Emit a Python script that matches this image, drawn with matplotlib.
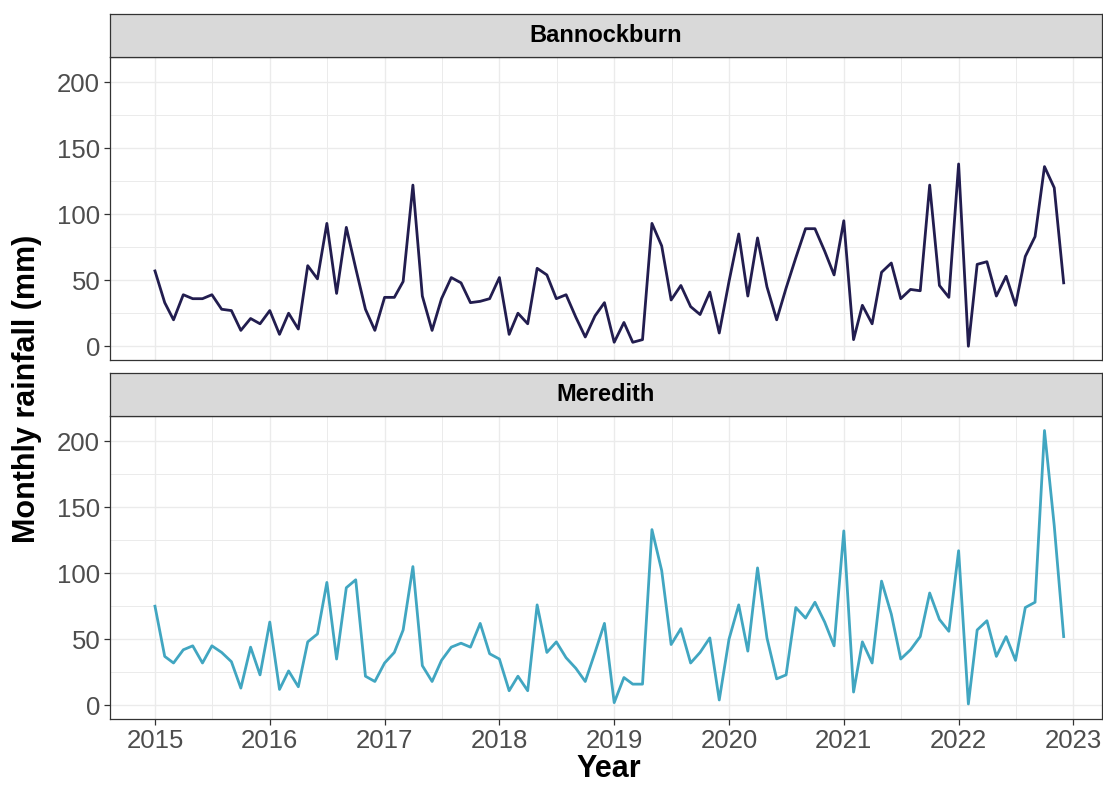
import numpy as np
import pandas as pd
import matplotlib
matplotlib.use("Agg")
import matplotlib.pyplot as plt
from matplotlib.ticker import MultipleLocator

plt.rcParams["font.family"] = ["Liberation Sans", "DejaVu Sans"]

# monthly rainfall (mm), Jan 2015 - Dec 2022
months = pd.date_range("2015-01-01", "2022-12-01", freq="MS")

sites = ["Bannockburn", "Meredith"]

bannockburn = [
    57, 33, 20, 39, 36, 36, 39, 28, 27, 12, 21, 17,
    27, 9, 25, 13, 61, 51, 93, 40, 90, 59, 28, 12,
    37, 37, 49, 122, 38, 12, 36, 52, 48, 33, 34, 36,
    52, 9, 25, 17, 59, 54, 36, 39, 22, 7, 23, 33,
    3, 18, 3, 5, 93, 76, 35, 46, 30, 24, 41, 10,
    49, 85, 38, 82, 45, 20, 44, 67, 89, 89, 72, 54,
    95, 5, 31, 17, 56, 63, 36, 43, 42, 122, 46, 37,
    138, 0, 62, 64, 38, 53, 31, 68, 83, 136, 120, 48,
]

meredith = [
    75, 37, 32, 42, 45, 32, 45, 40, 33, 13, 44, 23,
    63, 12, 26, 14, 48, 54, 93, 35, 89, 95, 22, 18,
    32, 40, 57, 105, 30, 18, 34, 44, 47, 44, 62, 39,
    35, 11, 22, 11, 76, 40, 48, 36, 28, 18, 40, 62,
    2, 21, 16, 16, 133, 102, 46, 58, 32, 40, 51, 4,
    50, 76, 41, 104, 51, 20, 23, 74, 66, 78, 63, 45,
    132, 10, 48, 32, 94, 69, 35, 42, 52, 85, 65, 56,
    117, 1, 57, 64, 37, 52, 34, 74, 78, 208, 136, 52,
]

colors = ["#221D4F", "#41A6C1"]
year_ticks = list(range(2015, 2024))
y_ticks = [0, 50, 100, 150, 200]

GRID = "#EBEBEB"
BORDER = "#333333"


def decimal_year(dates):
    start = pd.to_datetime(dates.year.astype(str) + "-01-01")
    length = np.where(dates.is_leap_year, 366.0, 365.0)
    return dates.year + (dates - start).days / length


def style_panel(ax, show_x):
    ax.set_xlim(2014.608, 2023.249)
    ax.set_ylim(-10.4, 219.0)
    ax.set_xticks(year_ticks)
    ax.set_yticks(y_ticks)
    ax.xaxis.set_minor_locator(MultipleLocator(0.5))
    ax.yaxis.set_minor_locator(MultipleLocator(25))
    ax.grid(True, which="major", color=GRID, linewidth=1.0)
    ax.grid(True, which="minor", color=GRID, linewidth=0.7)
    ax.set_axisbelow(True)
    for sp in ax.spines.values():
        sp.set_color(BORDER)
        sp.set_linewidth(0.9)
    ax.tick_params(which="minor", length=0)
    ax.tick_params(axis="y", which="major", length=4, width=0.9, color=BORDER,
                   pad=3, labelsize=18.5, labelcolor="#4D4D4D")
    ax.tick_params(axis="x", which="major", length=4, width=0.9, color=BORDER,
                   pad=3, labelsize=18.5, labelcolor="#4D4D4D",
                   labelbottom=show_x, bottom=show_x)


def draw_strip(fig, rect, label):
    sax = fig.add_axes(rect)
    sax.set_facecolor("#D9D9D9")
    sax.set_xticks([])
    sax.set_yticks([])
    for sp in sax.spines.values():
        sp.set_color(BORDER)
        sp.set_linewidth(0.9)
    sax.text(0.5, 0.5, label, ha="center", va="center", fontsize=17,
             fontweight="bold", color="black", transform=sax.transAxes)


def main():
    fig = plt.figure(figsize=(11.03, 7.87), dpi=100)
    x = decimal_year(months)

    left, width = 0.0997, 0.8994
    panels = [
        (0.5426, 0.9276, bannockburn),
        (0.0864, 0.4714, meredith),
    ]
    for (bottom, strip_bottom, values), site, color in zip(panels, sites, colors):
        ax = fig.add_axes([left, bottom, width, 0.385])
        ax.plot(x, values, color=color, linewidth=2.0, solid_joinstyle="round")
        style_panel(ax, show_x=(site == sites[-1]))
        draw_strip(fig, [left, strip_bottom, width, 0.0546], site)

    fig.text(0.0245, 0.5064, "Monthly rainfall (mm)", rotation=90, ha="center",
             va="center", fontsize=22, fontweight="bold")
    fig.text(0.552, 0.013, "Year", ha="center", va="baseline", fontsize=22,
             fontweight="bold")

    fig.savefig("out.png", dpi=100)
    plt.close(fig)


if __name__ == "__main__":
    main()
